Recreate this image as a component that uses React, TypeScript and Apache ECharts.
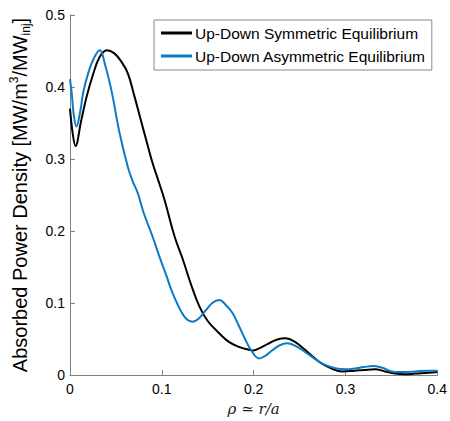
import React, { useEffect, useRef } from "react";
import * as echarts from "echarts";

const symmetricName = "Up-Down Symmetric Equilibrium";
const asymmetricName = "Up-Down Asymmetric Equilibrium";

const symmetricData: [number, number][] = [
  [0, 0.37], [0.003, 0.335], [0.006, 0.318], [0.012, 0.352], [0.018, 0.386],
  [0.025, 0.417], [0.032, 0.441], [0.04, 0.451], [0.048, 0.447], [0.056, 0.435],
  [0.063, 0.419], [0.07, 0.388], [0.078, 0.35], [0.085, 0.317], [0.09, 0.294],
  [0.097, 0.267], [0.103, 0.243], [0.114, 0.192], [0.123, 0.16], [0.132, 0.125],
  [0.141, 0.095], [0.15, 0.075], [0.1625, 0.058], [0.173, 0.046], [0.184, 0.039],
  [0.195, 0.035], [0.2, 0.034], [0.206, 0.037], [0.215, 0.043], [0.225, 0.049],
  [0.235, 0.051], [0.245, 0.046], [0.256, 0.035], [0.265, 0.025], [0.274, 0.016],
  [0.285, 0.009], [0.296, 0.005], [0.31, 0.006], [0.32, 0.007], [0.332, 0.008],
  [0.343, 0.005], [0.354, 0.002], [0.365, 0.001], [0.376, 0.002], [0.39, 0.003],
  [0.4, 0.004],
];

const asymmetricData: [number, number][] = [
  [0, 0.411], [0.002, 0.39], [0.004, 0.362], [0.007, 0.345], [0.011, 0.365],
  [0.0145, 0.393], [0.02, 0.42], [0.026, 0.44], [0.0325, 0.451], [0.038, 0.432],
  [0.045, 0.396], [0.054, 0.336], [0.063, 0.289], [0.068, 0.27], [0.074, 0.252],
  [0.08, 0.226], [0.09, 0.192], [0.0975, 0.164], [0.105, 0.138], [0.112, 0.113],
  [0.1246, 0.081], [0.1336, 0.074], [0.14, 0.078], [0.148, 0.09], [0.155, 0.1],
  [0.1625, 0.104], [0.17, 0.097], [0.177, 0.086], [0.184, 0.068], [0.191, 0.049],
  [0.198, 0.033], [0.206, 0.023], [0.213, 0.027], [0.22, 0.034], [0.228, 0.041],
  [0.2365, 0.044], [0.246, 0.04], [0.256, 0.032], [0.267, 0.022], [0.278, 0.014],
  [0.29, 0.009], [0.3, 0.008], [0.31, 0.009], [0.32, 0.011], [0.33, 0.0125],
  [0.34, 0.01], [0.354, 0.004], [0.365, 0.004], [0.376, 0.005], [0.39, 0.006],
  [0.4, 0.006],
];

const xTicks = { min: 0, max: 0.4, interval: 0.1 };
const yTicks = { min: 0, max: 0.5, interval: 0.1 };

export default function App() {
  const ref = useRef<HTMLDivElement>(null);
  useEffect(() => {
    if (!ref.current) return;
    const chart = echarts.init(ref.current, undefined, { renderer: "svg" });
    const axisColor = "#808080";
    const font = "Liberation Sans, Arial, sans-serif";
    const fmt = (v: number) => (v === 0 ? "0" : String(Math.round(v * 10) / 10));
    chart.setOption({
      animation: false,
      backgroundColor: "#ffffff",
      grid: { left: 70, right: 11, top: 15, bottom: 46, containLabel: false },
      legend: {
        orient: "vertical",
        left: 154,
        top: 20,
        backgroundColor: "#ffffff",
        borderColor: "#888888",
        borderWidth: 1,
        borderRadius: 0,
        padding: [4, 6, 5, 7],
        itemGap: 5,
        itemWidth: 31,
        itemHeight: 3,
        icon: "rect",
        textStyle: {
          fontSize: 15.5,
          lineHeight: 18,
          color: "#000",
          fontFamily: font,
          padding: [0, 0, 0, -2],
        },
        data: [symmetricName, asymmetricName],
      },
      xAxis: {
        type: "value",
        min: xTicks.min,
        max: xTicks.max,
        interval: xTicks.interval,
        name: "ρ ≃ r/a",
        nameLocation: "middle",
        nameGap: 26,
        nameTextStyle: {
          fontFamily: "DejaVu Serif, serif",
          fontStyle: "italic",
          fontSize: 15,
          color: "#222",
        },
        axisLine: { show: true, lineStyle: { color: axisColor, width: 1 } },
        axisTick: { show: true, inside: true, length: 5, lineStyle: { color: axisColor } },
        axisLabel: { color: "#000", fontSize: 14, fontFamily: font, margin: 7, formatter: fmt },
        splitLine: { show: false },
      },
      yAxis: {
        type: "value",
        min: yTicks.min,
        max: yTicks.max,
        interval: yTicks.interval,
        name: "{a|Absorbed Power Density [MW/m}{sup|3}{a|/MW}{sub|inj}{a|]}",
        nameLocation: "middle",
        nameGap: 38,
        nameRotate: 90,
        nameTextStyle: {
          rich: {
            a: { fontSize: 20, fontFamily: font, color: "#000", lineHeight: 24 },
            sup: { fontSize: 12, fontFamily: font, color: "#000", verticalAlign: "top", lineHeight: 24, padding: [0, 0, 9, 0] },
            sub: { fontSize: 12, fontFamily: font, color: "#000", verticalAlign: "bottom", lineHeight: 24, padding: [9, 0, 0, 0] },
          },
        },
        axisLine: { show: true, lineStyle: { color: axisColor, width: 1 } },
        axisTick: { show: true, inside: true, length: 5, lineStyle: { color: axisColor } },
        axisLabel: { color: "#000", fontSize: 14, fontFamily: font, margin: 5, formatter: fmt },
        splitLine: { show: false },
      },
      series: [
        {
          name: symmetricName,
          type: "line",
          data: symmetricData,
          smooth: 0.4,
          showSymbol: false,
          symbol: "none",
          lineStyle: { color: "#000000", width: 2 },
          itemStyle: { color: "#000000" },
        },
        {
          name: asymmetricName,
          type: "line",
          data: asymmetricData,
          smooth: 0.4,
          showSymbol: false,
          symbol: "none",
          lineStyle: { color: "#0b7bc6", width: 2 },
          itemStyle: { color: "#0b7bc6" },
        },
      ],
    });
    return () => chart.dispose();
  }, []);
  return <div ref={ref} style={{ width: 450, height: 421, position: "absolute", left: 0, top: 0 }} />;
}
